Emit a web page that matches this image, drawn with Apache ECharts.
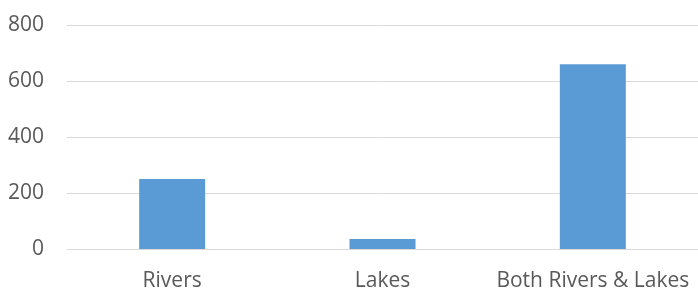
<!DOCTYPE html>
<html>
<head>
<meta charset="utf-8">
<script src="https://cdn.jsdelivr.net/npm/echarts@6/dist/echarts.min.js"></script>
<style>
  html, body { margin: 0; padding: 0; background: #fff; }
  #chart { width: 698px; height: 291px; }
</style>
</head>
<body>
<div id="chart"></div>
<script>
var categories = ['Rivers', 'Lakes', 'Both Rivers & Lakes'];
var counts = [250, 36, 660];
var yTicks = [0, 200, 400, 600, 800];

var chart = echarts.init(document.getElementById('chart'));
var option = {
    animation: false,
    grid: {
        left: 67,
        right: 0,
        top: 25,
        bottom: 42,
        outerBoundsMode: 'none'
    },
    xAxis: {
        type: 'category',
        data: categories,
        axisLine: { lineStyle: { color: '#d9d9d9', width: 1 } },
        axisTick: { show: false },
        axisLabel: {
            interval: 0,
            hideOverlap: false,
            color: '#595959',
            fontFamily: 'Open Sans',
            fontSize: 21,
            margin: 22
        }
    },
    yAxis: {
        type: 'value',
        min: yTicks[0],
        max: yTicks[yTicks.length - 1],
        interval: 200,
        axisLine: { show: false },
        axisTick: { show: false },
        splitLine: { lineStyle: { color: '#d9d9d9', width: 1 } },
        axisLabel: {
            color: '#595959',
            fontFamily: 'Open Sans',
            fontSize: 21,
            margin: 23
        }
    },
    series: [{
        type: 'bar',
        data: counts,
        barWidth: 66,
        itemStyle: { color: '#5b9bd5' }
    }]
};
chart.setOption(option);
</script>
</body>
</html>
